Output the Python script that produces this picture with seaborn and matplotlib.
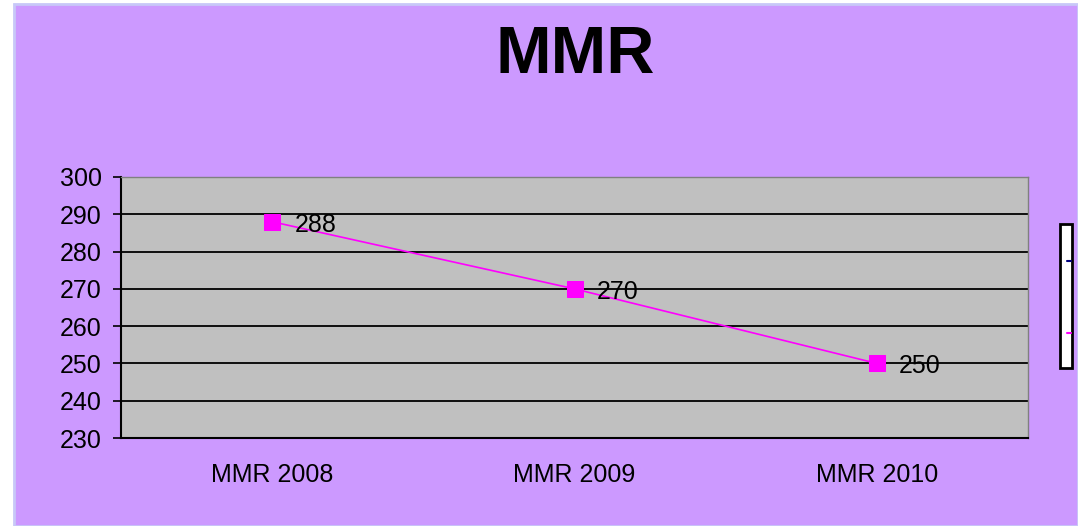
import numpy as np
import pandas as pd
import matplotlib
matplotlib.use("Agg")
import matplotlib.pyplot as plt
import seaborn as sns
from matplotlib.patches import Rectangle
from matplotlib.lines import Line2D

# chart data
categories = ["MMR 2008", "MMR 2009", "MMR 2010"]
mmr_values = [288, 270, 250]
y_ticks = [230, 240, 250, 260, 270, 280, 290, 300]

df = pd.DataFrame({"year": categories, "mmr": mmr_values})
df["pos"] = np.arange(len(df))

sns.set_style("white")
plt.rcParams["font.family"] = ["Liberation Sans", "DejaVu Sans"]

fig = plt.figure(figsize=(10.78, 5.26), dpi=100)
fig.patch.set_facecolor("white")
# purple chart area with light border
fig.patches.append(Rectangle((14 / 1078, 0), 1 - 14 / 1078, 1 - 4 / 526,
                             transform=fig.transFigure, facecolor="#CC99FF",
                             edgecolor="#C8C8F8", linewidth=2, zorder=-10))

ax = fig.add_axes([121 / 1078, 1 - 438 / 526, (1028 - 121) / 1078, (438 - 177) / 526])
ax.set_facecolor("#C0C0C0")

sns.lineplot(data=df, x="pos", y="mmr", ax=ax, color="#FF00FF", linewidth=1.2,
             marker="s", markersize=11, markeredgecolor="#FF00FF",
             markerfacecolor="#FF00FF", zorder=5)

for x, y in zip(df["pos"], df["mmr"]):
    ax.annotate(str(y), (x, y), xytext=(16, -2), textcoords="offset points",
                ha="left", va="center", fontsize=18, color="black", zorder=6)

ax.set_xlim(-0.5, len(categories) - 0.5)
ax.set_ylim(230, 300)
ax.set_yticks(y_ticks)
ax.yaxis.grid(True, color="black", linewidth=1.3)
ax.set_axisbelow(True)

ax.set_xticks(df["pos"])
ax.set_xticklabels(categories, fontsize=18, color="black")
ax.set_xticks(np.arange(-0.5, len(categories)), minor=True)
ax.tick_params(axis="x", which="major", length=0, pad=18, labelcolor="black")
ax.tick_params(axis="x", which="minor", length=6, width=1.2, color="black", direction="out")
ax.tick_params(axis="y", labelsize=18, length=6, width=1.2, color="black",
               labelcolor="black", direction="out", left=True, pad=8)
ax.set_xlabel("")
ax.set_ylabel("")

for s in ["top", "right"]:
    ax.spines[s].set_color("#808080")
    ax.spines[s].set_linewidth(1)
for s in ["left", "bottom"]:
    ax.spines[s].set_color("black")
    ax.spines[s].set_linewidth(1.5)

fig.text(575 / 1078, 1 - 56 / 526, "MMR", ha="center", va="center",
         fontsize=48, fontweight="bold", color="black")

# clipped legend box at right edge
fig.patches.append(Rectangle((1060 / 1078, 1 - 368 / 526), 12 / 1078, 144 / 526,
                             transform=fig.transFigure, facecolor="white",
                             edgecolor="black", linewidth=2, zorder=3))
fig.lines.append(Line2D([1067 / 1078, 1071 / 1078], [1 - 261 / 526] * 2,
                        transform=fig.transFigure, color="#000080", linewidth=1.5, zorder=4))
fig.lines.append(Line2D([1067 / 1078, 1071 / 1078], [1 - 333 / 526] * 2,
                        transform=fig.transFigure, color="#FF00FF", linewidth=1.5, zorder=4))

fig.savefig("out.png", dpi=100, facecolor=fig.get_facecolor())
